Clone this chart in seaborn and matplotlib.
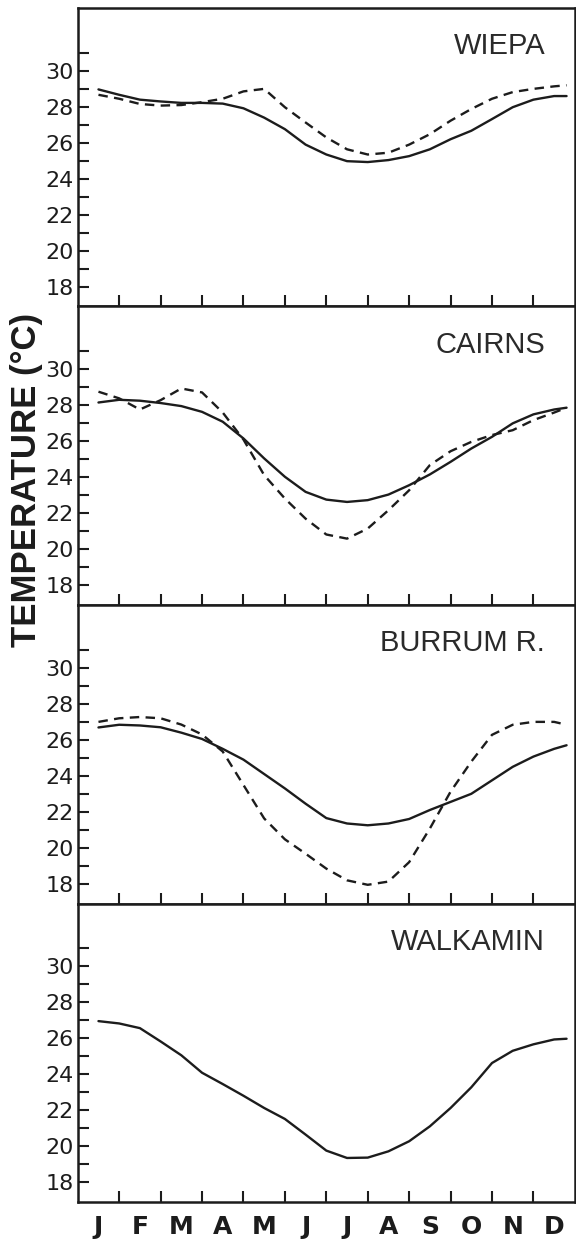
import matplotlib
matplotlib.use("Agg")
import matplotlib.pyplot as plt
import seaborn as sns
import pandas as pd

# ---- data ----
MONTHS = ["J", "F", "M", "A", "M", "J", "J", "A", "S", "O", "N", "D"]
MONTH_X = [0.5, 1.0, 1.5, 2.0, 2.5, 3.0, 3.5, 4.0, 4.5, 5.0, 5.5, 6.0,
           6.5, 7.0, 7.5, 8.0, 8.5, 9.0, 9.5, 10.0, 10.5, 11.0, 11.5, 11.8]

STATIONS = ["WIEPA", "CAIRNS", "BURRUM R.", "WALKAMIN"]

wiepa_solid = [28.97, 28.67, 28.40, 28.30, 28.22, 28.22, 28.18, 27.92, 27.40, 26.76,
               25.90, 25.35, 24.98, 24.93, 25.04, 25.26, 25.64, 26.20, 26.67, 27.32,
               27.98, 28.40, 28.60, 28.60]
wiepa_dashed = [28.67, 28.45, 28.16, 28.07, 28.10, 28.26, 28.45, 28.86, 29.00, 27.98,
                27.13, 26.30, 25.64, 25.35, 25.45, 25.90, 26.48, 27.23, 27.88, 28.45,
                28.82, 29.00, 29.14, 29.20]

cairns_solid = [28.16, 28.31, 28.26, 28.13, 27.96, 27.64, 27.09, 26.16, 25.05, 24.03,
                23.19, 22.76, 22.63, 22.73, 23.04, 23.56, 24.16, 24.86, 25.60, 26.25,
                27.00, 27.50, 27.77, 27.87]
cairns_dashed = [28.76, 28.39, 27.77, 28.29, 28.94, 28.72, 27.60, 26.10, 24.12, 22.82,
                 21.70, 20.82, 20.59, 21.15, 22.17, 23.28, 24.68, 25.45, 25.97, 26.35,
                 26.62, 27.18, 27.60, 27.87]

burrum_solid = [26.69, 26.84, 26.80, 26.70, 26.40, 26.05, 25.50, 24.90, 24.10, 23.30,
                22.45, 21.65, 21.35, 21.25, 21.35, 21.60, 22.10, 22.55, 23.00, 23.75,
                24.50, 25.07, 25.50, 25.70]
burrum_dashed = [27.00, 27.20, 27.27, 27.20, 26.85, 26.30, 25.35, 23.49, 21.63, 20.47,
                 19.67, 18.84, 18.19, 17.94, 18.12, 19.20, 21.07, 23.12, 24.79, 26.28,
                 26.84, 27.00, 27.00, 26.84]

walkamin_solid = [26.96, 26.83, 26.57, 25.83, 25.06, 24.09, 23.46, 22.81, 22.13, 21.52,
                  20.65, 19.76, 19.35, 19.37, 19.72, 20.28, 21.11, 22.13, 23.28, 24.63,
                  25.31, 25.67, 25.94, 25.98]
walkamin_dashed = None

SERIES = [
    (wiepa_solid, wiepa_dashed),
    (cairns_solid, cairns_dashed),
    (burrum_solid, burrum_dashed),
    (walkamin_solid, walkamin_dashed),
]

Y_MAJOR = [18, 20, 22, 24, 26, 28, 30]
Y_MINOR = [19, 21, 23, 25, 27, 29, 31]
X_TICKS = [1, 2, 3, 4, 5, 6, 7, 8, 9, 10, 11]
X_LABEL_POS = [0.5, 1.5, 2.5, 3.5, 4.5, 5.5, 6.5, 7.5, 8.5, 9.5, 10.5, 11.5]

# ---- style ----
sns.set_style("white")
plt.rcParams["font.family"] = ["Liberation Sans", "DejaVu Sans"]
INK = "#1c1c1c"

fig = plt.figure(figsize=(5.76, 12.41), dpi=100)
axes = fig.subplots(4, 1, sharex=True, gridspec_kw=dict(hspace=0))
fig.subplots_adjust(left=0.135, right=0.998, bottom=0.0314, top=0.9936)

for i, (ax, name, (solid, dashed)) in enumerate(zip(axes, STATIONS, SERIES)):
    df = pd.DataFrame({"month": MONTH_X, "temp": solid})
    sns.lineplot(data=df, x="month", y="temp", ax=ax, color=INK, linewidth=1.7,
                 estimator=None, sort=False, solid_joinstyle="round",
                 solid_capstyle="round")
    if dashed is not None:
        dfd = pd.DataFrame({"month": MONTH_X, "temp": dashed})
        sns.lineplot(data=dfd, x="month", y="temp", ax=ax, color=INK, linewidth=1.7,
                     linestyle=(0, (4.0, 2.7)), estimator=None, sort=False,
                     dash_joinstyle="round")

    ax.set_xlim(0, 12)
    ax.set_ylim(16.9, 33.5)
    ax.set_xlabel("")
    ax.set_ylabel("")

    ax.set_yticks(Y_MAJOR)
    ax.set_yticklabels([str(v) for v in Y_MAJOR], fontsize=16, color=INK,
                       family="DejaVu Sans")
    ax.set_yticks(Y_MINOR, minor=True)
    ax.tick_params(axis="y", which="both", direction="in", length=8, width=1.5,
                   color=INK, pad=3, left=True, right=False)

    ax.set_xticks(X_TICKS)
    ax.tick_params(axis="x", which="major", direction="in", length=8, width=1.5,
                   color=INK, bottom=True, top=False, labelbottom=False)
    ax.set_xticks(X_LABEL_POS, minor=True)
    ax.tick_params(axis="x", which="minor", length=0, bottom=True, top=False,
                   labelbottom=(i == 3), pad=9)
    if i == 3:
        ax.set_xticklabels(MONTHS, minor=True, fontsize=18, fontweight="bold",
                           color=INK, family="DejaVu Sans")

    for sp in ax.spines.values():
        sp.set_visible(True)
        sp.set_linewidth(1.8)
        sp.set_color(INK)

    ax.text(0.94, 0.872, name, transform=ax.transAxes, ha="right", va="center",
            fontsize=21, color="#2a2a2a")

fig.text(27 / 576, 1 - 480 / 1241, "TEMPERATURE (°C)", rotation=90,
         ha="center", va="center", fontsize=25, fontweight="bold", color=INK)

fig.savefig("out.png", dpi=100, facecolor="white")
